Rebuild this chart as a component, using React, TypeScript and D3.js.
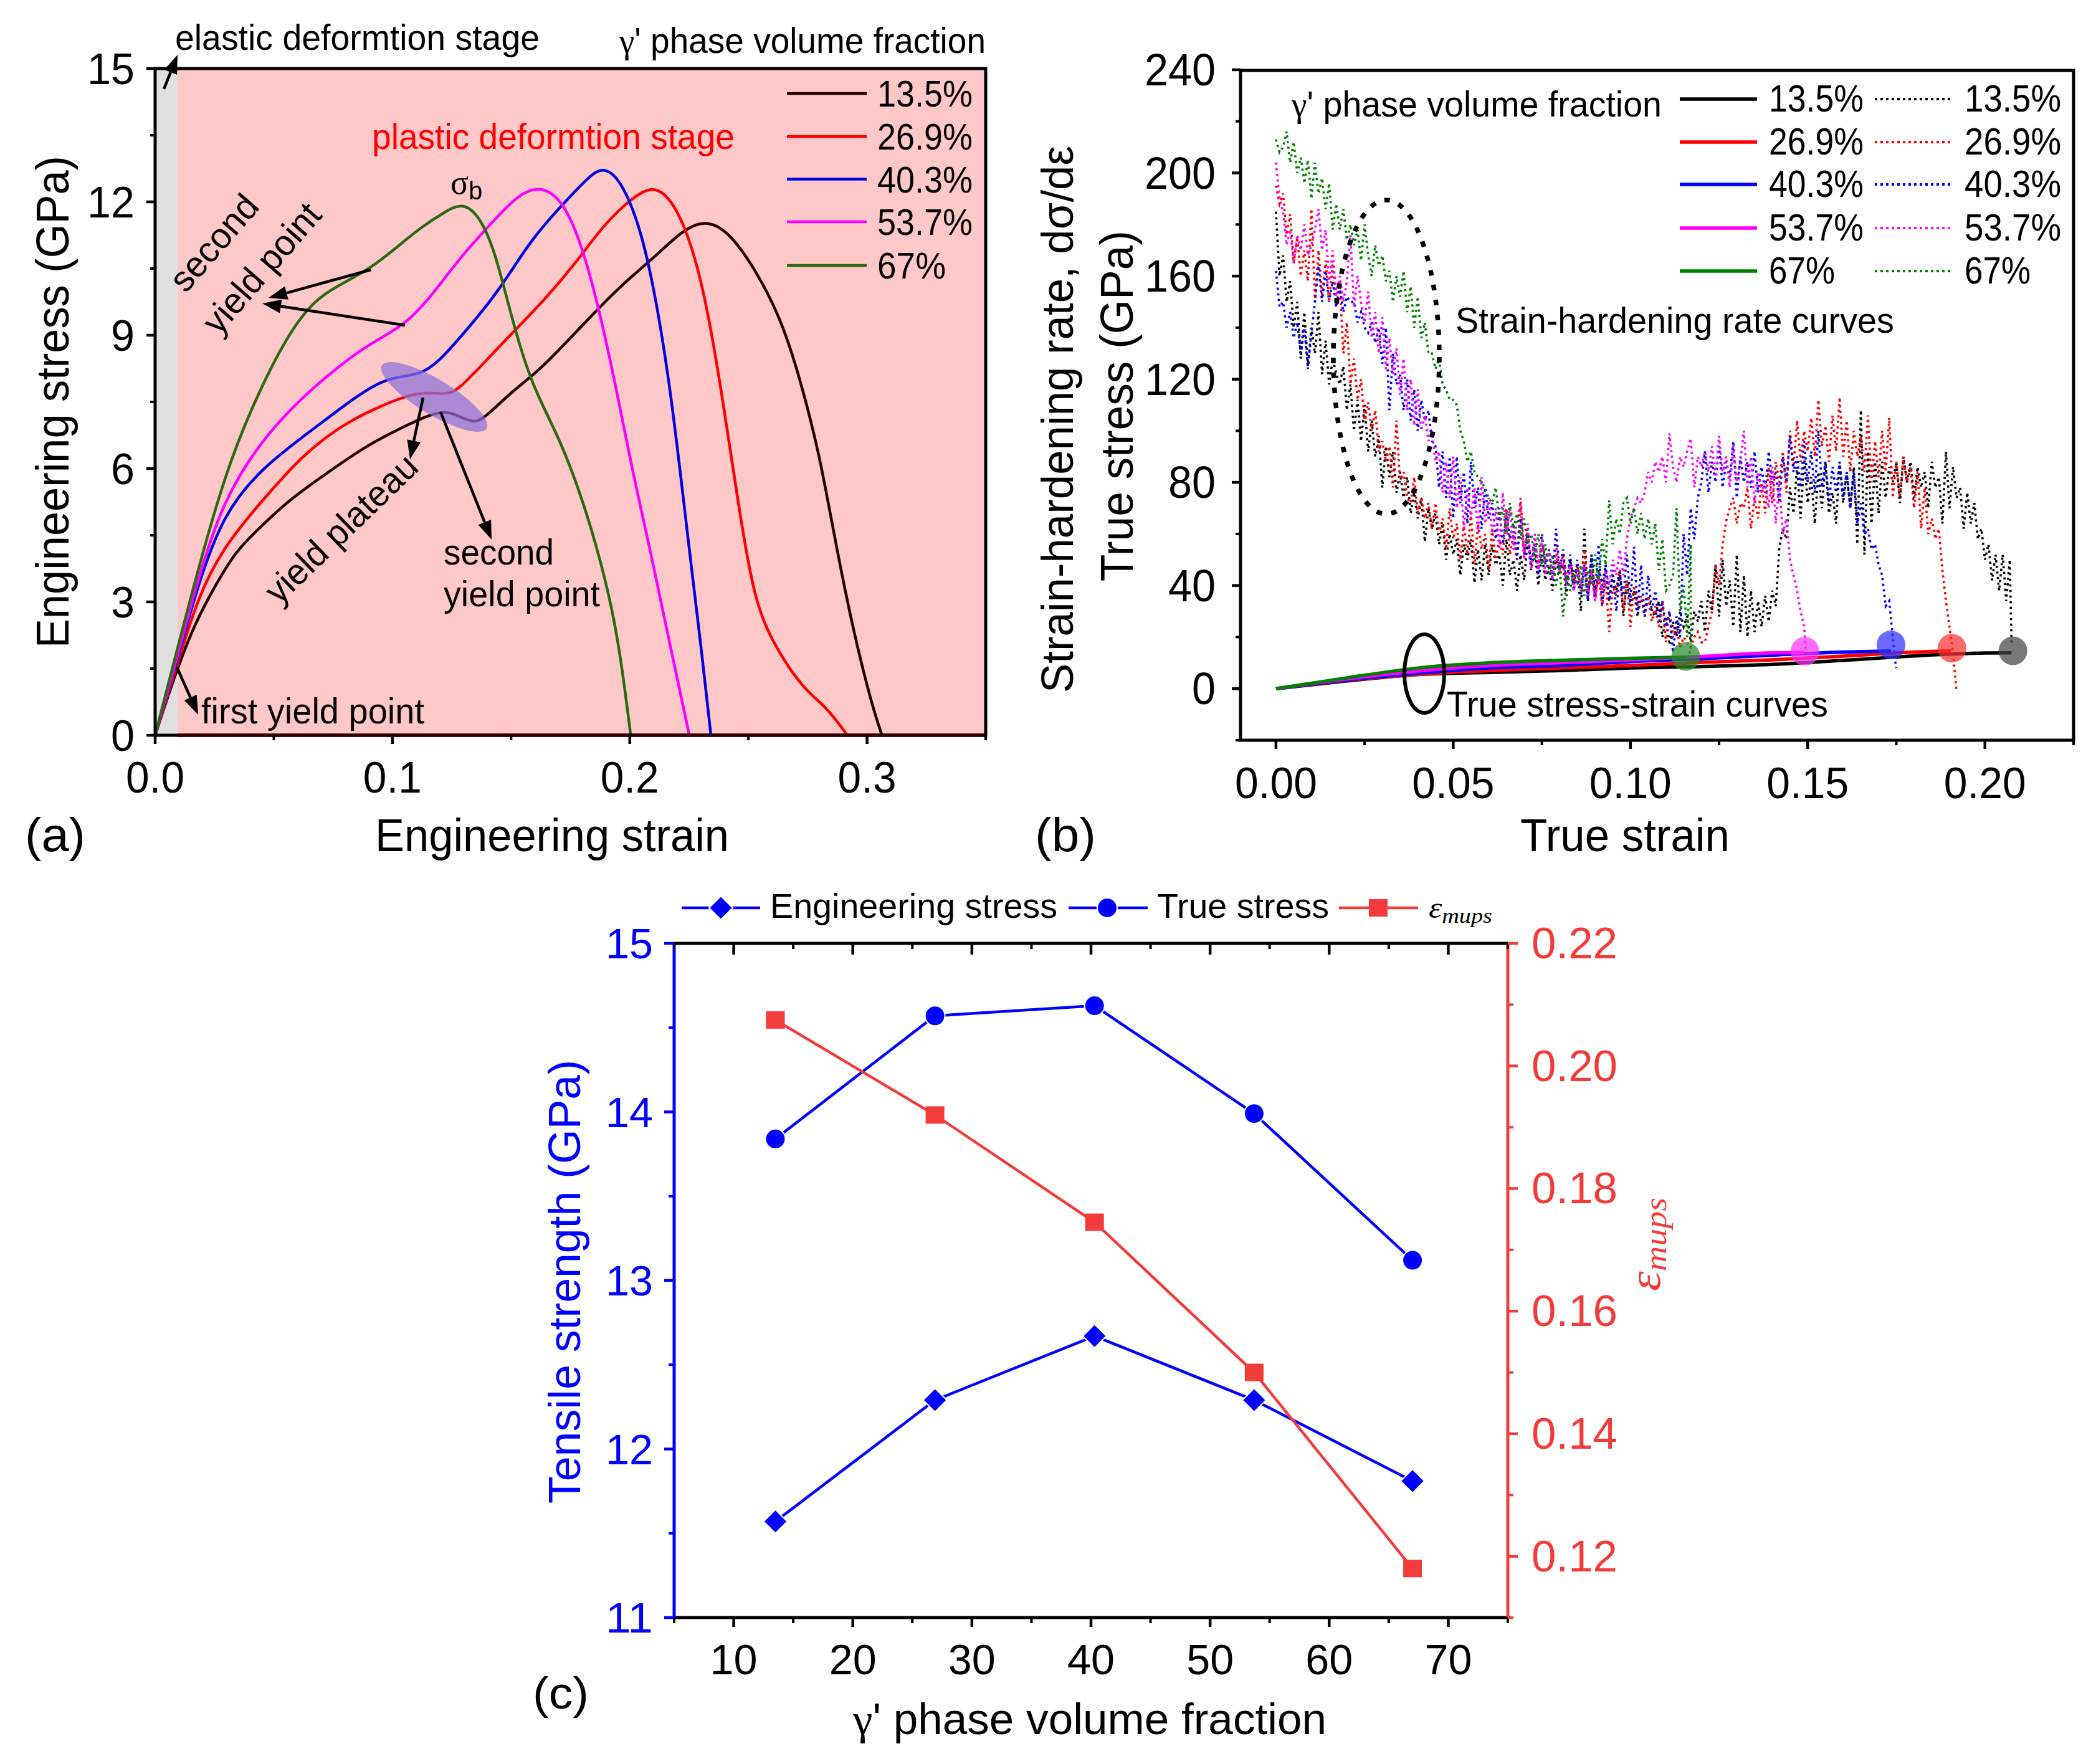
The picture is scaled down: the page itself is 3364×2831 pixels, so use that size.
import React from "react";
import * as d3 from "d3";

type P = [number, number];

// ---------- Panel (a): engineering stress (GPa) vs engineering strain ----------
const eng135: P[] = [[0,0],[.0094,1.53],[.0174,2.59],[.0257,3.4],[.034,4.15],[.0451,4.72],[.0561,5.28],[.0727,5.91],[.0893,6.53],[.1059,6.97],[.1142,7.18],[.1225,7.3],[.128,7.18],[.1349,7.0],[.1404,7.22],[.1501,7.72],[.1612,8.18],[.1722,8.78],[.1833,9.41],[.1971,10.16],[.211,10.78],[.222,11.35],[.2317,11.6],[.2414,11.35],[.2524,10.53],[.2635,9.41],[.2718,8.03],[.2801,6.28],[.2856,4.65],[.2939,2.4],[.3022,.65],[.3063,0]];
const eng269: P[] = [[0,0],[.0094,1.59],[.0174,3.03],[.0285,4.22],[.0451,5.28],[.0617,6.28],[.0782,6.97],[.0948,7.41],[.1114,7.75],[.1225,7.65],[.128,7.78],[.1391,8.41],[.1501,9.03],[.1639,9.78],[.1778,10.66],[.1888,11.47],[.1999,12.04],[.2087,12.36],[.2165,12.16],[.2248,11.28],[.2317,9.91],[.2386,7.78],[.2455,5.28],[.2524,3.03],[.2607,2.03],[.2732,1.03],[.2828,.65],[.2917,0]];
const eng403: P[] = [[0,0],[.0094,1.71],[.0174,3.28],[.0285,4.97],[.0451,6.03],[.0672,6.91],[.0838,7.59],[.0976,8.06],[.1114,8.09],[.1197,8.41],[.1308,9.09],[.1446,9.97],[.1584,11.16],[.1722,11.97],[.1833,12.6],[.1888,12.78],[.1957,12.54],[.204,11.53],[.2109,9.91],[.2179,7.53],[.2248,4.28],[.2303,1.9],[.2342,0]];
const eng537: P[] = [[0,0],[.0094,1.78],[.0174,3.4],[.0285,5.28],[.0451,6.66],[.0617,7.59],[.0755,8.22],[.0893,8.78],[.1053,9.22],[.1169,9.91],[.128,10.72],[.1418,11.53],[.1529,12.16],[.1617,12.36],[.1709,12.1],[.1792,11.16],[.1874,9.53],[.1944,7.78],[.2013,5.9],[.2082,4.28],[.2165,2.15],[.2251,0]];
const eng67: P[] = [[0,0],[.0094,1.96],[.0202,4.15],[.0312,6.16],[.0451,7.91],[.0589,9.28],[.0699,9.91],[.081,10.22],[.0907,10.51],[.1004,10.91],[.1114,11.41],[.1225,11.79],[.1294,11.98],[.1363,11.72],[.1432,10.91],[.1501,9.41],[.1584,7.91],[.1695,6.78],[.1778,5.66],[.186,4.28],[.193,2.78],[.1971,1.4],[.2004,0]];

const fractionLabels = ["13.5%", "26.9%", "40.3%", "53.7%", "67%"];
const engColors = ["#220000", "#ff0000", "#0000e0", "#ff00ff", "#2b6a10"];
const brightColors = ["#000000", "#ff0000", "#0000ff", "#ff00ff", "#008000"];

// ---------- Panel (b): true stress (solid) ----------
const true135: P[] = [[0,0],[.02,3],[.04,5.5],[.06,6.3],[.08,7],[.1,8],[.12,8.6],[.14,9.4],[.16,11],[.18,12.7],[.2,13.8],[.2075,13.9]];
const true269: P[] = [[0,0],[.02,3.2],[.04,5.5],[.06,7],[.08,8],[.1,9],[.12,10.2],[.14,11.2],[.16,12.6],[.18,14.2],[.1905,14.7]];
const true403: P[] = [[0,0],[.02,3.4],[.04,6],[.06,8],[.08,9],[.1,10.5],[.12,11.6],[.14,13],[.16,14.2],[.1735,14.6]];
const true537: P[] = [[0,0],[.02,3.8],[.04,6.8],[.06,9],[.08,10],[.1,11.2],[.12,12.5],[.14,13.9],[.149,14]];
const true67: P[] = [[0,0],[.02,4.2],[.04,8],[.06,10],[.08,11],[.1,11.8],[.116,12.2]];

// Strain-hardening rate (strain in thousandths, rate in GPa)
const rate135: P[] = [[0,185],[1,160],[2,168],[3,150],[4,158],[5,140],[6,150],[7,128],[8,146],[9,125],[10,140],[11,130],[12,146],[13,122],[14,135],[15,118],[16,128],[17,122],[18,118],[19,125],[20,108],[21,118],[22,100],[23,112],[24,96],[25,110],[26,92],[27,104],[28,90],[29,98],[30,78],[31,94],[32,82],[33,92],[34,76],[35,84],[36,74],[37,82],[38,68],[39,76],[40,66],[41,74],[42,57],[43,70],[44,62],[45,68],[46,56],[47,64],[48,50],[49,60],[50,52],[51,58],[52,44],[53,56],[54,50],[55,58],[56,41],[57,54],[58,42],[59,56],[60,44],[61,56],[62,48],[63,52],[64,40],[65,58],[66,44],[67,50],[68,38],[69,52],[70,42],[71,58],[72,46],[73,54],[74,40],[75,52],[76,42],[77,48],[78,38],[79,50],[80,44],[81,48],[82,36],[83,50],[84,42],[85,48],[86,30],[87,62],[88,34],[89,52],[90,36],[91,46],[92,40],[93,48],[94,34],[95,44],[96,38],[97,46],[98,28],[99,42],[100,32],[101,38],[102,28],[103,36],[104,28],[105,36],[106,30],[107,28],[108,34],[109,20],[110,28],[111,17],[112,26],[113,20],[114,30],[115,24],[116,28],[117,18],[118,30],[119,26],[120,34],[121,22],[122,38],[123,30],[124,48],[125,28],[126,50],[127,32],[128,42],[129,24],[130,52],[131,22],[132,44],[133,20],[134,38],[135,22],[136,34],[137,24],[138,36],[139,26],[140,38],[141,32],[142,55],[143,62],[144,58],[145,78],[146,68],[147,86],[148,66],[149,90],[150,72],[151,82],[152,64],[153,84],[154,70],[155,88],[156,68],[157,76],[158,64],[159,88],[160,72],[161,84],[162,70],[163,86],[164,56],[165,108],[166,52],[167,92],[168,64],[169,88],[170,68],[171,88],[172,74],[173,86],[174,80],[175,88],[176,72],[177,90],[178,80],[179,88],[180,74],[181,86],[182,78],[183,84],[184,70],[185,88],[186,78],[187,82],[188,64],[189,92],[190,70],[191,86],[192,74],[193,78],[194,62],[195,76],[196,64],[197,72],[198,58],[199,62],[200,50],[201,56],[202,42],[203,52],[204,38],[205,52],[206,34],[207,50],[207.5,18]];
const rate269: P[] = [[0,195],[1,188],[2,192],[3,176],[4,184],[5,165],[6,175],[7,160],[8,170],[9,158],[10,186],[11,150],[12,170],[13,152],[14,166],[15,150],[16,165],[17,148],[18,158],[19,130],[20,142],[21,118],[22,128],[23,112],[24,120],[25,104],[26,111],[27,100],[28,108],[29,92],[30,96],[31,88],[32,94],[33,78],[34,104],[35,80],[36,84],[37,74],[38,72],[39,82],[40,68],[41,74],[42,66],[43,72],[44,62],[45,72],[46,60],[47,66],[48,54],[49,70],[50,58],[51,64],[52,50],[53,64],[54,52],[55,68],[56,48],[57,64],[58,54],[59,60],[60,46],[61,62],[62,50],[63,58],[64,52],[65,70],[66,52],[67,60],[68,50],[69,74],[70,52],[71,62],[72,48],[73,58],[74,46],[75,56],[76,50],[77,54],[78,44],[79,56],[80,46],[81,52],[82,42],[83,50],[84,40],[85,48],[86,38],[87,54],[88,36],[89,46],[90,34],[91,44],[92,32],[93,42],[94,22],[95,40],[96,36],[97,46],[98,30],[99,42],[100,24],[101,40],[102,32],[103,36],[104,28],[105,36],[106,26],[107,32],[108,24],[109,34],[110,18],[111,30],[112,20],[113,24],[114,16],[115,20],[116,18],[117,16],[118,20],[119,22],[120,18],[121,18],[122,24],[123,30],[124,48],[125,40],[126,56],[127,65],[128,70],[129,74],[130,64],[131,72],[132,70],[133,78],[134,62],[135,74],[136,66],[137,80],[138,68],[139,86],[140,72],[141,88],[142,80],[143,92],[144,76],[145,100],[146,86],[147,104],[148,88],[149,100],[150,92],[151,105],[152,90],[153,112],[154,94],[155,102],[156,88],[157,106],[158,92],[159,113],[160,90],[161,104],[162,84],[163,100],[164,90],[165,98],[166,84],[167,106],[168,80],[169,96],[170,82],[171,100],[172,84],[173,105],[174,74],[175,88],[176,74],[177,90],[178,80],[179,86],[180,70],[181,84],[182,62],[183,78],[184,60],[185,66],[186,58],[187,62],[188,46],[189,34],[190,24],[191,14],[191.5,6],[192,-1]];
const rate403: P[] = [[0,162],[1,148],[2,150],[3,140],[4,146],[5,136],[6,142],[7,130],[8,140],[9,124],[10,138],[11,150],[12,164],[13,150],[14,162],[15,150],[16,158],[17,148],[18,156],[19,146],[20,152],[21,150],[22,150],[23,142],[24,146],[25,140],[26,138],[27,142],[28,134],[29,140],[30,126],[31,140],[32,108],[33,130],[34,118],[35,122],[36,108],[37,120],[38,104],[39,116],[40,100],[41,112],[42,104],[43,108],[44,96],[45,94],[46,78],[47,92],[48,74],[49,90],[50,66],[51,90],[52,72],[53,84],[54,64],[55,88],[56,70],[57,78],[58,62],[59,78],[60,66],[61,72],[62,58],[63,70],[64,56],[65,68],[66,58],[67,64],[68,50],[69,66],[70,52],[71,60],[72,48],[73,56],[74,44],[75,60],[76,48],[77,54],[78,42],[79,62],[80,46],[81,54],[82,40],[83,52],[84,38],[85,50],[86,36],[87,48],[88,34],[89,52],[90,36],[91,56],[92,32],[93,48],[94,34],[95,46],[96,30],[97,44],[98,36],[99,52],[100,34],[101,55],[102,30],[103,48],[104,28],[105,44],[106,30],[107,38],[108,26],[109,34],[110,24],[111,30],[112,14],[113,28],[114,20],[115,60],[116,44],[117,70],[118,58],[119,74],[120,80],[121,92],[122,76],[123,88],[124,80],[125,94],[126,78],[127,88],[128,82],[129,96],[130,74],[131,90],[132,80],[133,88],[134,78],[135,92],[136,76],[137,86],[138,76],[139,92],[140,80],[141,84],[142,72],[143,90],[144,80],[145,98],[146,84],[147,90],[148,78],[149,96],[150,80],[151,92],[152,76],[153,100],[154,78],[155,88],[156,72],[157,86],[158,76],[159,88],[160,74],[161,84],[162,70],[163,84],[164,64],[165,72],[166,60],[167,62],[168,54],[169,56],[170,48],[171,44],[172,32],[173,34],[174,20],[174.5,12],[175,8]];
const rate537: P[] = [[0,204],[1,190],[2,185],[3,172],[4,178],[5,165],[6,176],[7,170],[8,180],[9,168],[10,172],[11,178],[12,186],[13,170],[14,178],[15,158],[16,170],[17,152],[18,160],[19,150],[20,158],[21,176],[22,148],[23,160],[24,150],[25,142],[26,154],[27,136],[28,146],[29,130],[30,144],[31,124],[32,136],[33,122],[34,132],[35,114],[36,128],[37,108],[38,120],[39,102],[40,116],[41,100],[42,106],[43,96],[44,100],[45,88],[46,92],[47,76],[48,88],[49,74],[50,90],[51,70],[52,82],[53,62],[54,78],[55,66],[56,78],[57,60],[58,82],[59,64],[60,74],[61,60],[62,70],[63,54],[64,76],[65,60],[66,70],[67,54],[68,66],[69,72],[70,50],[71,64],[72,46],[73,60],[74,46],[75,58],[76,44],[77,54],[78,42],[79,52],[80,46],[81,48],[82,40],[83,48],[84,38],[85,46],[86,40],[87,48],[88,36],[89,46],[90,34],[91,44],[92,38],[93,46],[94,40],[95,50],[96,44],[97,54],[98,44],[99,58],[100,66],[101,70],[102,74],[103,72],[104,76],[105,84],[106,80],[107,88],[108,84],[109,90],[110,80],[111,99],[112,86],[113,80],[114,90],[115,86],[116,92],[117,97],[118,78],[119,90],[120,86],[121,92],[122,84],[123,94],[124,82],[125,98],[126,84],[127,90],[128,78],[129,94],[130,80],[131,88],[132,100],[133,78],[134,90],[135,72],[136,84],[137,76],[138,80],[139,70],[140,86],[141,64],[142,80],[143,60],[144,66],[145,50],[146,44],[147,38],[148,30],[149,24],[149.5,15]];
const rate67: P[] = [[0,213],[1,208],[2,210],[3,216],[4,204],[5,212],[6,200],[7,206],[8,196],[9,205],[10,190],[11,204],[12,192],[13,198],[14,186],[15,196],[16,178],[17,188],[18,178],[19,186],[20,174],[21,180],[22,172],[23,178],[24,166],[25,180],[26,168],[27,160],[28,172],[29,164],[30,168],[31,158],[32,162],[33,150],[34,160],[35,152],[36,162],[37,146],[38,156],[39,140],[40,152],[41,136],[42,142],[43,130],[44,130],[45,124],[46,128],[47,118],[48,116],[49,112],[50,112],[51,110],[52,100],[53,96],[54,88],[55,92],[56,84],[57,82],[58,80],[59,78],[60,74],[61,72],[62,78],[63,66],[64,70],[65,60],[66,72],[67,62],[68,68],[69,58],[70,66],[71,56],[72,60],[73,50],[74,60],[75,48],[76,56],[77,44],[78,52],[79,40],[80,48],[81,28],[82,44],[83,38],[84,46],[85,40],[86,48],[87,36],[88,46],[89,40],[90,52],[91,42],[92,58],[93,48],[94,73],[95,56],[96,66],[97,60],[98,72],[99,74],[100,64],[101,70],[102,60],[103,68],[104,58],[105,66],[106,56],[107,64],[108,46],[109,58],[110,38],[111,40],[112,44],[113,70],[114,30],[115,40],[116,20],[117,56],[117,16],[116.5,12]];

const endStrain = [.2079, .1907, .1735, .1492, .1156];
const endStress = [14.7, 15.7, 17, 14.5, 12.5];

// ---------- Panel (c) ----------
const fractions = [13.5, 26.9, 40.3, 53.7, 67];
const engineeringStress = [11.57, 12.29, 12.67, 12.29, 11.81];
const trueStress = [13.84, 14.57, 14.63, 13.99, 13.12];
const epsMups = [.2075, .192, .1745, .15, .118];

// ---------- Tick lists ----------
const aXMajor = [0, .1, .2, .3];
const aXMinor = [.05, .15, .25, .35];
const aYMajor = [0, 3, 6, 9, 12, 15];
const aYMinor = [1.5, 4.5, 7.5, 10.5, 13.5];
const bXMajor = [0, .05, .1, .15, .2];
const bXMinor = [.025, .075, .125, .175, .225];
const bYMajor = [0, 40, 80, 120, 160, 200, 240];
const bYMinor = [-20, 20, 60, 100, 140, 180, 220];
const cXMajor = [10, 20, 30, 40, 50, 60, 70];
const cXMinor = [5, 15, 25, 35, 45, 55, 65, 75];
const cYMajor = [11, 12, 13, 14, 15];
const cYMinor = [11.5, 12.5, 13.5, 14.5];
const cRMajor = [.12, .14, .16, .18, .2, .22];
const cRMinor = [.11, .13, .15, .17, .19, .21];

const SANS = "'Liberation Sans', Arial, sans-serif";
const SERIF = "'Liberation Serif', 'Times New Roman', serif";

// Scales
const ax = d3.scaleLinear().domain([0, .35]).range([249, 1582]);
const ay = d3.scaleLinear().domain([0, 15]).range([1180, 110]);
const bx = d3.scaleLinear().domain([-.01, .225]).range([1991, 3328]);
const by = d3.scaleLinear().domain([-20, 240]).range([1188, 112]);
const cx = d3.scaleLinear().domain([5, 75]).range([1082, 2420]);
const cy = d3.scaleLinear().domain([11, 15]).range([2596, 1514]);
const cr = d3.scaleLinear().domain([.11, .22]).range([2596, 1514]);

function T(p: { x: number; y: number; w?: number; s?: number; a?: string; c?: string; rot?: number; children: React.ReactNode; fam?: string; st?: string }) {
  const { x, y, w, s = 58, a = "start", c = "#000", rot, children, fam = SANS, st } = p;
  return (
    <text x={x} y={y} fontSize={s} fontFamily={fam} fill={c} textAnchor={a} fontStyle={st}
      textLength={w} lengthAdjust={w ? "spacingAndGlyphs" : undefined}
      transform={rot != null ? `rotate(${rot} ${x} ${y})` : undefined}>{children}</text>
  );
}

// Width of a numeric tick label in the reference's slightly condensed lettering
const tickW = (s: string) => Array.from(s).reduce((acc, ch) => acc + (ch === "." ? 18 : 38), 0);

function Arrow({ x1, y1, x2, y2 }: { x1: number; y1: number; x2: number; y2: number }) {
  const ang = Math.atan2(y2 - y1, x2 - x1);
  const L = 30, H = 11;
  const bx0 = x2 - L * Math.cos(ang), by0 = y2 - L * Math.sin(ang);
  const nx = -Math.sin(ang) * H, ny = Math.cos(ang) * H;
  return (
    <g>
      <line x1={x1} y1={y1} x2={bx0} y2={by0} stroke="#000" strokeWidth={4.5} />
      <polygon points={`${x2},${y2} ${bx0 + nx},${by0 + ny} ${bx0 - nx},${by0 - ny}`} fill="#000" />
    </g>
  );
}

const line = (sx: any, sy: any) => d3.line<P>().x(d => sx(d[0])).y(d => sy(d[1]));
const smooth = (sx: any, sy: any) => d3.line<P>().x(d => sx(d[0])).y(d => sy(d[1])).curve(d3.curveMonotoneX);

function PanelA() {
  const series = [eng135, eng269, eng403, eng537, eng67];
  const gen = d3.line<P>().x(d => ax(d[0])).y(d => ay(d[1])).curve(d3.curveBasis);
  const rows = [150, 219, 287.5, 356, 426];
  const textRows = [170, 239, 307.5, 376, 446];
  return (
    <g>
      <rect x={ax(0)} y={ay(15)} width={ax(.35) - ax(0)} height={ay(0) - ay(15)} fill="#ffc8c8" />
      <rect x={ax(0)} y={ay(15)} width={ax(.0095) - ax(0)} height={ay(0) - ay(15)} fill="#e0e0e0" />
      {series.map((d, i) => <path key={i} d={gen(d) || ""} fill="none" stroke={engColors[i]} strokeWidth={4.5} />)}
      <ellipse cx={697} cy={637} rx={98} ry={28} transform="rotate(31 697 637)" fill="#8a70d8" opacity={0.72} />
      <rect x={ax(0)} y={ay(15)} width={ax(.35) - ax(0)} height={ay(0) - ay(15)} fill="none" stroke="#000" strokeWidth={5} />
      <line x1={ax(.0095)} x2={ax(.35)} y1={ay(0)} y2={ay(0)} stroke="#300" strokeWidth={5.5} />
      {aYMajor.map(v => <g key={v}><line x1={ax(0) - 14} x2={ax(0)} y1={ay(v)} y2={ay(v)} stroke="#000" strokeWidth={4.5} /><T x={216} y={ay(v) + 25} s={70} a="end" w={tickW(String(v))}>{v}</T></g>)}
      {aYMinor.map(v => <line key={v} x1={ax(0) - 8} x2={ax(0)} y1={ay(v)} y2={ay(v)} stroke="#000" strokeWidth={4} />)}
      {aXMajor.map(v => <g key={v}><line y1={ay(0)} y2={ay(0) + 14} x1={ax(v)} x2={ax(v)} stroke="#000" strokeWidth={4.5} /><T x={ax(v)} y={1272} s={70} a="middle" w={tickW(v.toFixed(1))}>{v.toFixed(1)}</T></g>)}
      {aXMinor.map(v => <line key={v} y1={ay(0)} y2={ay(0) + 8} x1={ax(v)} x2={ax(v)} stroke="#000" strokeWidth={4} />)}

      <T x={602} y={1366} w={568} s={74}>Engineering strain</T>
      <T x={110} y={1040} w={790} s={74} rot={-90}>Engineering stress (GPa)</T>
      <T x={40} y={1366} w={97} s={76}>(a)</T>
      <T x={281} y={80} w={585}>elastic deformtion stage</T>
      <T x={994} y={85} w={588}><tspan fontFamily={SERIF}>γ</tspan>' phase volume fraction</T>
      <T x={597} y={239} w={582} c="#ff0000">plastic deformtion stage</T>
      <T x={723} y={311} s={54} fam={SERIF}>σ<tspan fontSize={40} dy={9} fontFamily={SANS}>b</tspan></T>
      <T x={298} y={472} w={184} rot={-49}>second</T>
      <T x={351} y={540} w={256} rot={-49}>yield point</T>
      <T x={448} y={972} w={315} rot={-44}>yield plateau</T>
      <T x={712} y={906} w={177}>second</T>
      <T x={712} y={973} w={251}>yield point</T>
      <T x={323} y={1161} w={358}>first yield point</T>

      <Arrow x1={263} y1={143} x2={285} y2={88} />
      <Arrow x1={595} y1={433} x2={431} y2={478} />
      <Arrow x1={650} y1={522} x2={421} y2={487} />
      <Arrow x1={679} y1={638} x2={658} y2={737} />
      <Arrow x1={707} y1={661} x2={789} y2={866} />
      <Arrow x1={284} y1={1071} x2={318} y2={1147} />

      {fractionLabels.map((l, i) => (
        <g key={l}>
          <line x1={1263} x2={1391} y1={rows[i]} y2={rows[i]} stroke={engColors[i]} strokeWidth={4.5} />
          <T x={1408} y={textRows[i] + 1} w={l === "67%" ? 110 : 153} s={60}>{l}</T>
        </g>
      ))}
    </g>
  );
}

function PanelB() {
  const rates = [rate135, rate269, rate403, rate537, rate67];
  const trues = [true135, true269, true403, true537, true67];
  const rateLine = d3.line<P>().x(d => bx(d[0] / 1000)).y(d => by(d[1]));
  const trueLine = smooth(bx, by);
  const rows = [159, 228, 296, 366, 435];
  const textRows = [178, 246.5, 315, 385, 454];
  const circleFill = ["#444444", "#ff3030", "#3030ff", "#ff30ff", "#2a8a2a"];
  return (
    <g>
      {rates.map((d, i) => <path key={i} d={rateLine(d) || ""} fill="none" stroke={brightColors[i]} strokeWidth={3.6} strokeDasharray="3.5 5.5" />)}
      {trues.map((d, i) => <path key={i} d={trueLine(d) || ""} fill="none" stroke={brightColors[i]} strokeWidth={5.5} />)}
      {endStrain.map((v, i) => <circle key={i} cx={bx(v)} cy={by(endStress[i])} r={23} fill={circleFill[i]} opacity={0.72} />)}
      <ellipse cx={2225} cy={573} rx={85} ry={252} fill="none" stroke="#000" strokeWidth={7.5} strokeDasharray="9 15" />
      <ellipse cx={2286} cy={1081} rx={32} ry={63} fill="none" stroke="#000" strokeWidth={6} />
      <rect x={1991} y={113} width={1337} height={1075} fill="none" stroke="#000" strokeWidth={5} />
      {bYMajor.map(v => <g key={v}><line x1={1977} x2={1991} y1={by(v)} y2={by(v)} stroke="#000" strokeWidth={4.5} /><T x={1951} y={by(v) + 25} s={72} a="end" w={tickW(String(v))}>{v}</T></g>)}
      {bYMinor.map(v => <line key={v} x1={1983} x2={1991} y1={by(v)} y2={by(v)} stroke="#000" strokeWidth={4} />)}
      {bXMajor.map(v => <g key={v}><line y1={1188} y2={1202} x1={bx(v)} x2={bx(v)} stroke="#000" strokeWidth={4.5} /><T x={bx(v)} y={1281} s={70} a="middle" w={tickW(v.toFixed(2))}>{v.toFixed(2)}</T></g>)}
      {bXMinor.map(v => <line key={v} y1={1188} y2={1196} x1={bx(v)} x2={bx(v)} stroke="#000" strokeWidth={4} />)}

      <T x={2440} y={1366} w={336} s={74}>True strain</T>
      <T x={1661} y={1366} w={98} s={76}>(b)</T>
      <T x={1722} y={1112} w={878} s={72} rot={-90}>Strain-hardening rate, dσ/dε</T>
      <T x={1818} y={933} w={563} s={74} rot={-90}>True stress (GPa)</T>
      <T x={2073} y={187} w={594}><tspan fontFamily={SERIF}>γ</tspan>' phase volume fraction</T>
      <T x={2336} y={534} w={704}>Strain-hardening rate curves</T>
      <T x={2322} y={1150} w={612}>True stress-strain curves</T>
      {fractionLabels.map((l, i) => (
        <g key={l}>
          <line x1={2696} x2={2820} y1={rows[i]} y2={rows[i]} stroke={brightColors[i]} strokeWidth={5.5} />
          <T x={2839} y={textRows[i] + 1} w={l === "67%" ? 106 : 152} s={62}>{l}</T>
          <line x1={3009} x2={3133} y1={rows[i]} y2={rows[i]} stroke={brightColors[i]} strokeWidth={4} strokeDasharray="4 5" />
          <T x={3153} y={textRows[i] + 1} w={l === "67%" ? 106 : 155} s={62}>{l}</T>
        </g>
      ))}
    </g>
  );
}

const BLUE = "#0000ff";
const RED = "#f23c3c";

function Diamond({ x, y, r = 19 }: { x: number; y: number; r?: number }) {
  return <polygon points={`${x},${y - r} ${x + r},${y} ${x},${y + r} ${x - r},${y}`} fill={BLUE} stroke="#fff" strokeWidth={2} />;
}

function PanelC() {
  const pts = (ys: number[]) => fractions.map((f, i) => [f, ys[i]] as P);
  const lb = line(cx, cy);
  const lr = line(cx, cr);
  return (
    <g>
      <path d={lb(pts(engineeringStress)) || ""} fill="none" stroke={BLUE} strokeWidth={4.5} />
      <path d={lb(pts(trueStress)) || ""} fill="none" stroke={BLUE} strokeWidth={4.5} />
      <path d={lr(pts(epsMups)) || ""} fill="none" stroke={RED} strokeWidth={4.5} />
      {fractions.map((f, i) => <Diamond key={i} x={cx(f)} y={cy(engineeringStress[i])} />)}
      {fractions.map((f, i) => <circle key={i} cx={cx(f)} cy={cy(trueStress[i])} r={16} fill={BLUE} stroke="#fff" strokeWidth={2} />)}
      {fractions.map((f, i) => <rect key={i} x={cx(f) - 15} y={cr(epsMups[i]) - 14} width={30} height={28} fill={RED} />)}

      <line x1={1082} x2={2420} y1={1514} y2={1514} stroke="#000" strokeWidth={5} />
      <line x1={1082} x2={2420} y1={2596} y2={2596} stroke="#000" strokeWidth={5} />
      <line x1={1082} x2={1082} y1={1514} y2={2596} stroke={BLUE} strokeWidth={5} />
      <line x1={2420} x2={2420} y1={1514} y2={2596} stroke={RED} strokeWidth={5} />

      {cXMajor.map(v => <g key={v}>
        <line x1={cx(v)} x2={cx(v)} y1={2596} y2={2611} stroke="#000" strokeWidth={4.5} />
        <line x1={cx(v)} x2={cx(v)} y1={1514} y2={1532} stroke="#000" strokeWidth={4.5} />
        <T x={cx(v)} y={2687} s={68} a="middle" w={tickW(String(v))}>{v}</T>
      </g>)}
      {cXMinor.map(v => <g key={v}>
        <line x1={cx(v)} x2={cx(v)} y1={2596} y2={2605} stroke="#000" strokeWidth={4} />
        <line x1={cx(v)} x2={cx(v)} y1={1514} y2={1523} stroke="#000" strokeWidth={4} />
      </g>)}
      {cYMajor.map(v => <g key={v}>
        <line x1={1066} x2={1082} y1={cy(v)} y2={cy(v)} stroke={BLUE} strokeWidth={4.5} />
        <T x={1048} y={cy(v) + 24} s={68} a="end" c={BLUE} w={tickW(String(v))}>{v}</T>
      </g>)}
      {cYMinor.map(v => <line key={v} x1={1073} x2={1082} y1={cy(v)} y2={cy(v)} stroke={BLUE} strokeWidth={4} />)}
      {cRMajor.map(v => <g key={v}>
        <line x1={2420} x2={2436} y1={cr(v)} y2={cr(v)} stroke={RED} strokeWidth={4.5} />
        <T x={2458} y={cr(v) + 24} s={70} w={138} c={RED}>{v.toFixed(2)}</T>
      </g>)}
      {cRMinor.map(v => <line key={v} x1={2420} x2={2429} y1={cr(v)} y2={cr(v)} stroke={RED} strokeWidth={4} />)}

      <T x={1369} y={2783} w={760} s={70}><tspan fontFamily={SERIF}>γ</tspan>' phase volume fraction</T>
      <T x={855} y={2742} w={90} s={72}>(c)</T>
      <T x={931} y={2413} w={712} s={72} c={BLUE} rot={-90}>Tensile strength (GPa)</T>
      <T x={2664} y={2072} s={72} w={150} c={RED} fam={SERIF} st="italic" rot={-90}>ε<tspan fontSize={50} dy={10}>mups</tspan></T>

      <line x1={1094} x2={1220} y1={1457} y2={1457} stroke={BLUE} strokeWidth={4.5} />
      <Diamond x={1157} y={1457} />
      <T x={1236} y={1473} w={461} s={56}>Engineering stress</T>
      <line x1={1715} x2={1842} y1={1457} y2={1457} stroke={BLUE} strokeWidth={4.5} />
      <circle cx={1777} cy={1457} r={16} fill={BLUE} stroke="#fff" strokeWidth={2} />
      <T x={1857} y={1473} w={276} s={56}>True stress</T>
      <line x1={2149} x2={2276} y1={1457} y2={1457} stroke={RED} strokeWidth={4.5} />
      <rect x={2197} y={1443} width={30} height={28} fill={RED} />
      <T x={2293} y={1473} s={48} w={102} fam={SERIF} st="italic">ε<tspan fontSize={34} dy={8}>mups</tspan></T>
    </g>
  );
}

export default function App() {
  return (
    <svg width={3364} height={2831} viewBox="0 0 3364 2831"
      style={{ position: "absolute", left: 0, top: 0, background: "#fff", display: "block" }}>
      <PanelA />
      <PanelB />
      <PanelC />
    </svg>
  );
}
